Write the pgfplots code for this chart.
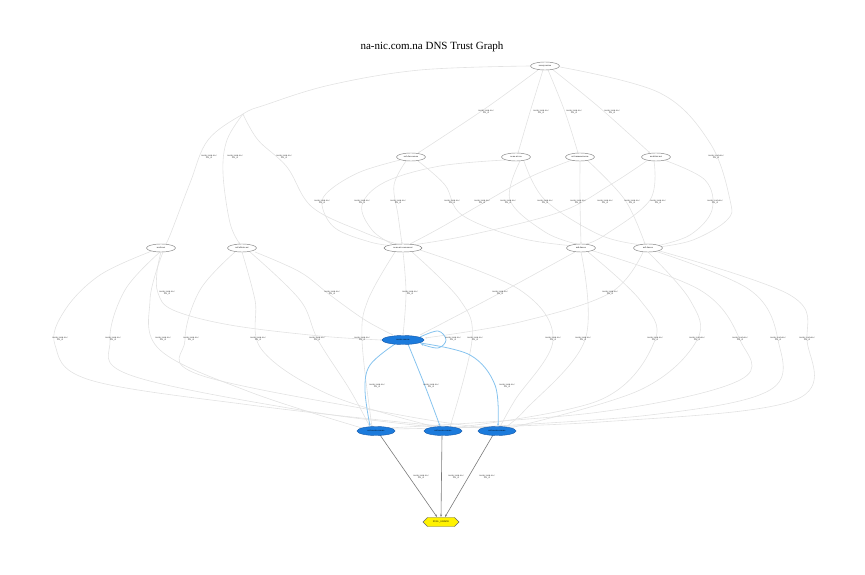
\documentclass[border=0pt]{standalone}
\usepackage{pgfplots}
\pgfplotsset{compat=1.18}
\usepackage{fontspec}
\setmainfont{Liberation Serif}
\usetikzlibrary{shapes.geometric,shapes.misc,arrows.meta}
\definecolor{edgegray}{HTML}{E2E2E2}
\definecolor{nodegray}{HTML}{808080}
\definecolor{bluefill}{HTML}{1C7BDC}
\definecolor{blueline}{HTML}{1558A8}
\definecolor{blueedge}{HTML}{86C3EE}
\definecolor{darkedge}{HTML}{7A7A7A}
\definecolor{yellowfill}{HTML}{FFF200}
\begin{document}
\begin{tikzpicture}
\begin{axis}[
  scale only axis, width=865pt, height=575pt,
  xmin=0, xmax=865, ymin=0, ymax=575, y dir=reverse,
  hide axis, clip=false,
  title={na-nic.com.na DNS Trust Graph},
  title style={at={(0.4994,0.9078)}, anchor=center, font=\fontsize{11}{13}\selectfont},
  every axis plot/.append style={line width=0.6pt, mark=none},
  gedge/.style={edgegray, smooth, tension=0.6, -{Stealth[length=2pt,width=1.6pt]}},
  bedge/.style={blueedge, smooth, tension=0.6, line width=0.8pt, -{Stealth[length=2.4pt,width=2pt]}},
  dedge/.style={darkedge, line width=0.6pt, -{Stealth[length=2.6pt,width=2pt]}},
]
\addplot[draw=none] coordinates {(0,0) (865,575)};
% ---- gray edges: top node to level 2
\addplot[gedge] coordinates {(538,70) (486,108) (418,153)};
\addplot[gedge] coordinates {(543,70) (530,112) (518,153)};
\addplot[gedge] coordinates {(548,70) (565,112) (578,153)};
\addplot[gedge] coordinates {(552,69) (600,108) (650,153)};
% top node, big left sweep
\addplot[gedge] coordinates {(530,66) (420,70) (330,85) (265,105) (243,114) (208,140) (190,183) (168,240) (163,244)};
\addplot[gedge] coordinates {(243,114) (227,140) (223,173) (230,223) (240,244)};
\addplot[gedge] coordinates {(243,114) (258,140) (287,167) (312,207) (363,232) (397,244)};
% top node, right sweep
\addplot[gedge] coordinates {(560,67) (660,93) (710,143) (730,200) (727,220) (693,240) (658,247)};
% ---- level 2 to level 3
\addplot[gedge] coordinates {(400,160) (360,172) (330,190) (322,205) (335,228) (370,242) (395,246)};
\addplot[gedge] coordinates {(505,160) (440,166) (385,182) (362,205) (372,230) (392,244)};
\addplot[gedge] coordinates {(406,161) (394,185) (398,215) (402,244)};
\addplot[gedge] coordinates {(418,161) (445,185) (462,215) (520,238) (575,246)};
\addplot[gedge] coordinates {(572,160) (530,177) (485,202) (440,228) (410,244)};
\addplot[gedge] coordinates {(520,161) (510,200) (545,232) (577,244)};
\addplot[gedge] coordinates {(524,161) (545,200) (600,235) (643,245)};
\addplot[gedge] coordinates {(580,161) (580,200) (581,244)};
\addplot[gedge] coordinates {(648,160) (610,185) (560,212) (470,235) (412,245)};
\addplot[gedge] coordinates {(588,161) (625,200) (645,244)};
\addplot[gedge] coordinates {(654,161) (650,200) (605,235) (586,244)};
\addplot[gedge] coordinates {(664,160) (705,180) (712,210) (690,235) (656,246)};
% ---- level 3 to blue centre node
\addplot[gedge] coordinates {(161,252) (157,272) (158,293) (173,310) (230,325) (320,336) (382,340)};
\addplot[gedge] coordinates {(255,252) (300,272) (330,295) (365,320) (393,335)};
\addplot[gedge] coordinates {(403,252) (406,293) (403,335)};
\addplot[gedge] coordinates {(575,252) (500,293) (420,335)};
\addplot[gedge] coordinates {(643,252) (610,293) (520,322) (425,338)};
% ---- level 3 to blue bottom nodes
\addplot[gedge] coordinates {(152,251) (100,275) (65,310) (55,345) (90,380) (250,405) (420,424) (488,428)};
\addplot[gedge] coordinates {(160,252) (125,290) (110,340) (130,375) (300,410) (433,427)};
\addplot[gedge] coordinates {(163,252) (150,300) (160,350) (250,392) (362,428)};
\addplot[gedge] coordinates {(235,252) (200,290) (185,340) (200,375) (400,415) (486,428)};
\addplot[gedge] coordinates {(242,252) (255,300) (262,350) (330,395) (436,427)};
\addplot[gedge] coordinates {(250,252) (300,300) (318,340) (350,390) (370,427)};
\addplot[gedge] coordinates {(395,252) (368,300) (362,340) (372,427)};
\addplot[gedge] coordinates {(412,252) (460,300) (472,340) (450,427)};
\addplot[gedge] coordinates {(420,250) (520,290) (553,340) (515,400) (500,427)};
\addplot[gedge] coordinates {(581,252) (585,340) (525,410) (505,427)};
\addplot[gedge] coordinates {(588,252) (640,300) (655,340) (600,400) (452,428)};
\addplot[gedge] coordinates {(590,250) (700,290) (740,340) (740,380) (600,412) (388,428)};
\addplot[gedge] coordinates {(648,252) (690,300) (697,340) (640,390) (510,428)};
\addplot[gedge] coordinates {(655,251) (750,290) (778,340) (770,390) (650,415) (456,428)};
\addplot[gedge] coordinates {(656,250) (790,295) (807,340) (795,400) (600,422) (392,429)};
% ---- blue edges
\addplot[bedge] coordinates {(420,337) (438,331) (446,340) (438,348) (421,344)};
\addplot[bedge] coordinates {(395,344) (370,365) (365,390) (370,426)};
\addplot[bedge] coordinates {(408,344) (425,386) (440,426)};
\addplot[bedge] coordinates {(420,343) (470,355) (495,385) (498,426)};
% ---- dark edges to the yellow node
\addplot[dedge] coordinates {(380,435) (437,517)};
\addplot[dedge] coordinates {(442,435) (441,517)};
\addplot[dedge] coordinates {(493,435) (445,517)};
% ---- edge labels
\addplot[draw=none, nodes near coords={na-nic.com.na./\\NS\_A}, nodes near coords align=center,
  every node near coord/.append style={anchor=center, inner sep=0pt, align=center, text=black!85,
    font=\fontsize{2.5}{2.6}\selectfont}]
coordinates {
 (486,112) (541,112) (574,112) (612,112)
 (209,157) (235,157) (284,157) (716,157)
 (322,202) (362,202) (398,202) (452,202) (482,202) (508,202) (545,202) (578,202) (605,202) (632,202) (658,202) (715,202)
 (167,293) (332,293) (410,293) (500,293) (610,293)
 (60,339) (113,339) (163,339) (191,339) (258,339) (317,339) (362,339) (453,339) (475,339)
 (553,339) (583,339) (655,339) (697,339) (740,339) (778,339) (807,339)
 (377,386) (431,386) (507,386)
 (421,477) (456,477) (487,477)
};
% ---- plain ellipse nodes
\addplot[draw=none, point meta=explicit symbolic, nodes near coords, nodes near coords align=center,
  every node near coord/.append style={anchor=center, ellipse, draw=nodegray, line width=0.45pt, fill=white,
    minimum width=29pt, minimum height=8pt, inner sep=0.3pt, font=\fontsize{2.3}{2.5}\selectfont}]
table[meta=label] {
x y label
545 66 ns.anycast.na
411 157 ns1.dns.com.na
516 157 ns.na-nic.na
580 157 ns2.nameserver.na
656 157 ns.afrinic.net
161 248 ns.afr.net
242 248 ns2.afrinic.net
581 248 ns4.dns.na
648 248 ns5.dns.na
};
\addplot[draw=none, point meta=explicit symbolic, nodes near coords, nodes near coords align=center,
  every node near coord/.append style={anchor=center, ellipse, draw=nodegray, line width=0.45pt, fill=white,
    minimum width=38pt, minimum height=8pt, inner sep=0.3pt, font=\fontsize{2.3}{2.5}\selectfont}]
table[meta=label] {
x y label
403 248 ns.na-nic.com.na.net
};
% ---- blue nodes
\addplot[draw=none, point meta=explicit symbolic, nodes near coords, nodes near coords align=center,
  every node near coord/.append style={anchor=center, ellipse, draw=blueline, line width=0.4pt, fill=bluefill,
    minimum width=42pt, minimum height=9pt, inner sep=0.3pt, font=\fontsize{2.3}{2.5}\selectfont}]
table[meta=label] {
x y label
403 340 na-nic.com.na
};
\addplot[draw=none, point meta=explicit symbolic, nodes near coords, nodes near coords align=center,
  every node near coord/.append style={anchor=center, ellipse, draw=blueline, line width=0.4pt, fill=bluefill,
    minimum width=38pt, minimum height=9pt, inner sep=0.3pt, font=\fontsize{2.3}{2.5}\selectfont}]
table[meta=label] {
x y label
376 431 ns1.na-nic.com.na
443 431 ns2.na-nic.com.na
497 431 ns3.na-nic.com.na
};
% ---- yellow node
\addplot[draw=none, point meta=explicit symbolic, nodes near coords, nodes near coords align=center,
  every node near coord/.append style={anchor=center, chamfered rectangle, chamfered rectangle xsep=3pt,
    draw=black!60, line width=0.4pt, fill=yellowfill,
    minimum width=36pt, minimum height=8pt, inner sep=0.5pt, font=\fontsize{2.5}{2.7}\selectfont}]
table[meta=label] {
x y label
441 522 FULL\_GRADE
};
\end{axis}
\end{tikzpicture}
\end{document}
